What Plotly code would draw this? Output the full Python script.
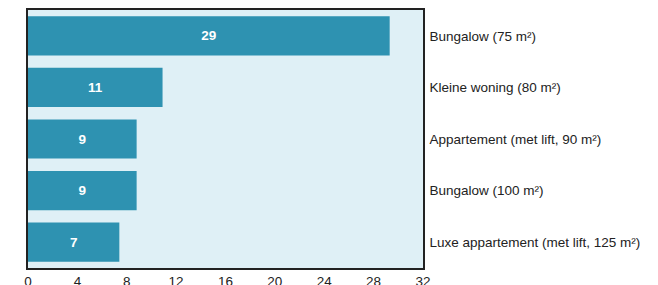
import plotly.graph_objects as go

categories = ["Bungalow (75 m²)", "Kleine woning (80 m²)", "Appartement (met lift, 90 m²)",
              "Bungalow (100 m²)", "Luxe appartement (met lift, 125 m²)"]
values = [29.3, 10.9, 8.8, 8.8, 7.4]
labels = [str(round(v)) for v in values]
x_ticks = [0, 4, 8, 12, 16, 20, 24, 28, 32]

fig = go.Figure(go.Bar(
    x=values, y=categories, orientation="h",
    marker=dict(color="#2e92b1", line=dict(width=0)),
    text=labels, textposition="inside", insidetextanchor="middle",
    textfont=dict(color="white", size=13.5, family="Liberation Sans, Arial", weight="bold"),
    hoverinfo="skip",
))
fig.update_layout(
    width=650, height=277,
    margin=dict(l=20, r=235, t=2, b=17, autoexpand=False),
    paper_bgcolor="white", plot_bgcolor="#dff0f6",
    bargap=0.24, showlegend=False,
    font=dict(family="Liberation Sans, Arial", size=13.5, color="#222"),
)
fig.update_xaxes(range=[0, 32], tickvals=x_ticks, showgrid=False, zeroline=False,
                 showline=True, linecolor="#222", linewidth=1.5, mirror=True,
                 ticks="", tickfont=dict(size=13.5, color="#222"), fixedrange=True,
                 automargin=False)
fig.update_yaxes(autorange="reversed", side="right", showgrid=False, zeroline=False,
                 showline=True, linecolor="#222", linewidth=1.5, mirror=True,
                 ticks="", ticklabelstandoff=2, tickfont=dict(size=13.5, color="#222"),
                 fixedrange=True, automargin=False)
fig.write_html("out.html")
